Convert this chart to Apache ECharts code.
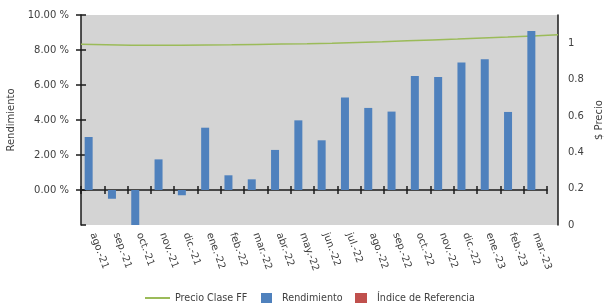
<!DOCTYPE html>
<html>
<head>
<meta charset="utf-8">
<script src="https://cdn.jsdelivr.net/npm/echarts@6/dist/echarts.min.js"></script>
<style>
html, body { margin: 0; padding: 0; background: #ffffff; }
#box { width: 607px; height: 305px; }
</style>
</head>
<body>
<div id="box"></div>
<script>
// datos
const categories = ["ago.-21", "sep.-21", "oct.-21", "nov.-21", "dic.-21", "ene.-22", "feb.-22", "mar.-22", "abr.-22", "may.-22",
	"jun.-22", "jul.-22", "ago.-22", "sep.-22", "oct.-22", "nov.-22", "dic.-22", "ene.-23", "feb.-23", "mar.-23"]
const rendimiento = [3.03, -0.5, -2.0, 1.75, -0.3, 3.56, 0.84, 0.61, 2.29, 3.98,
	2.84, 5.28, 4.69, 4.48, 6.51, 6.46, 7.28, 7.47, 4.46, 9.09]
const indiceReferencia = []
const precioClaseFF = [0.994, 0.991, 0.988, 0.988, 0.989, 0.990, 0.991, 0.993, 0.995, 0.997,
	1.000, 1.004, 1.008, 1.013, 1.018, 1.023, 1.029, 1.034, 1.040, 1.046]
const rendTicks = [-2, 0, 2, 4, 6, 8, 10]
const precioTicks = [0, 0.2, 0.4, 0.6, 0.8, 1]

const font = "DejaVu Sans"
const txt = "#404040"

let myCharts = echarts.init(document.getElementById("box"))
let catAxis = {
	type: "category",
	gridIndex: 0,
	data: categories,
	position: "bottom",
	axisLabel: { show: false, interval: 0 },
	axisTick: { show: false },
	axisLine: { show: false },
}
let rendAxis = {
	type: "value",
	gridIndex: 0,
	position: "left",
	min: rendTicks[0],
	max: rendTicks[rendTicks.length - 1],
	interval: rendTicks[1] - rendTicks[0],
	splitLine: { show: false },
	axisLine: { show: false },
	axisTick: { show: false },
	axisLabel: { show: false },
}
let option = {
	animation: false,
	textStyle: { fontFamily: font },
	grid: [
		// barras
		{ left: 81, right: 60, top: 15, bottom: 80, outerBoundsMode: "none" },
		// fondo gris + eje de precio
		{ left: 81, right: 49, top: 15, bottom: 80, show: true, backgroundColor: "#d4d4d4", borderWidth: 0, outerBoundsMode: "none" },
	],
	xAxis: [
		// linea en cero con marcas hacia abajo
		Object.assign({}, catAxis, {
			axisLine: { show: true, onZero: true, lineStyle: { color: "#1a1a1a", width: 1.5 } },
			axisTick: { show: true, interval: 0, length: 4, lineStyle: { color: "#1a1a1a", width: 1.5 } },
		}),
		// etiquetas abajo
		Object.assign({}, catAxis, {
			axisLine: { show: false, onZero: false },
			axisLabel: { show: true, interval: 0, rotate: -70, margin: 8, color: txt, fontSize: 10, fontFamily: font },
		}),
		// marcas hacia arriba
		Object.assign({}, catAxis, {
			axisLine: { show: false, onZero: true },
			axisTick: { show: true, interval: 0, inside: true, length: 4, lineStyle: { color: "#1a1a1a", width: 1.5 } },
		}),
		{ type: "category", gridIndex: 1, data: categories, boundaryGap: false, show: false },
	],
	yAxis: [
		Object.assign({}, rendAxis, {
			name: "Rendimiento",
			nameLocation: "middle",
			nameGap: 64,
			nameTextStyle: { color: txt, fontSize: 10, fontFamily: font },
			axisLine: { show: true, lineStyle: { color: "#1a1a1a", width: 1.5 } },
			axisTick: { show: true, length: 5, lineStyle: { color: "#1a1a1a", width: 1.5 } },
			axisLabel: {
				show: true, showMinLabel: false, margin: 12, color: txt, fontSize: 10, fontFamily: font,
				formatter: (v) => v.toFixed(2) + " %",
			},
		}),
		Object.assign({}, rendAxis, {
			axisTick: { show: true, inside: true, length: 5, lineStyle: { color: "#1a1a1a", width: 1.5 } },
		}),
		{
			type: "value",
			gridIndex: 1,
			position: "right",
			min: precioTicks[0],
			max: 1.155,
			interval: precioTicks[1] - precioTicks[0],
			name: "$ Precio",
			nameLocation: "middle",
			nameGap: 34,
			nameTextStyle: { color: txt, fontSize: 10, fontFamily: font },
			splitLine: { show: false },
			axisLine: { show: true, lineStyle: { color: "#1a1a1a", width: 1.5 } },
			axisTick: { show: false },
			axisLabel: { showMaxLabel: false, margin: 10, color: txt, fontSize: 10, fontFamily: font },
		},
	],
	legend: [
		{
			left: 140, top: 288, itemWidth: 25, itemHeight: 2,
			data: [{ name: "Precio Clase FF", icon: "rect" }],
			textStyle: { color: txt, fontSize: 9.6, fontFamily: font },
		},
		{
			left: 256, top: 288, itemWidth: 11, itemHeight: 10,
			data: [{ name: "Rendimiento", icon: "rect" }],
			textStyle: { color: txt, fontSize: 9.6, fontFamily: font, padding: [0, 0, 0, 5] },
		},
		{
			left: 350, top: 288, itemWidth: 12, itemHeight: 10,
			data: [{ name: "Índice de Referencia", icon: "rect" }],
			textStyle: { color: txt, fontSize: 9.6, fontFamily: font, padding: [0, 0, 0, 5] },
		},
	],
	series: [
		{
			name: "Precio Clase FF",
			type: "line",
			xAxisIndex: 3,
			yAxisIndex: 2,
			data: precioClaseFF,
			showSymbol: false,
			z: 1,
			itemStyle: { color: "#9bbb59" },
			lineStyle: { color: "#9bbb59", width: 1.5 },
		},
		{
			name: "Rendimiento",
			type: "bar",
			xAxisIndex: 0,
			yAxisIndex: 0,
			data: rendimiento,
			barWidth: 8,
			barGap: "0%",
			z: 3,
			itemStyle: { color: "#4f81bd" },
		},
		{
			name: "Índice de Referencia",
			type: "bar",
			xAxisIndex: 0,
			yAxisIndex: 0,
			data: indiceReferencia,
			barWidth: 8,
			barGap: "0%",
			z: 3,
			itemStyle: { color: "#c0504d" },
		},
	],
}
myCharts.setOption(option)
</script>
</body>
</html>
